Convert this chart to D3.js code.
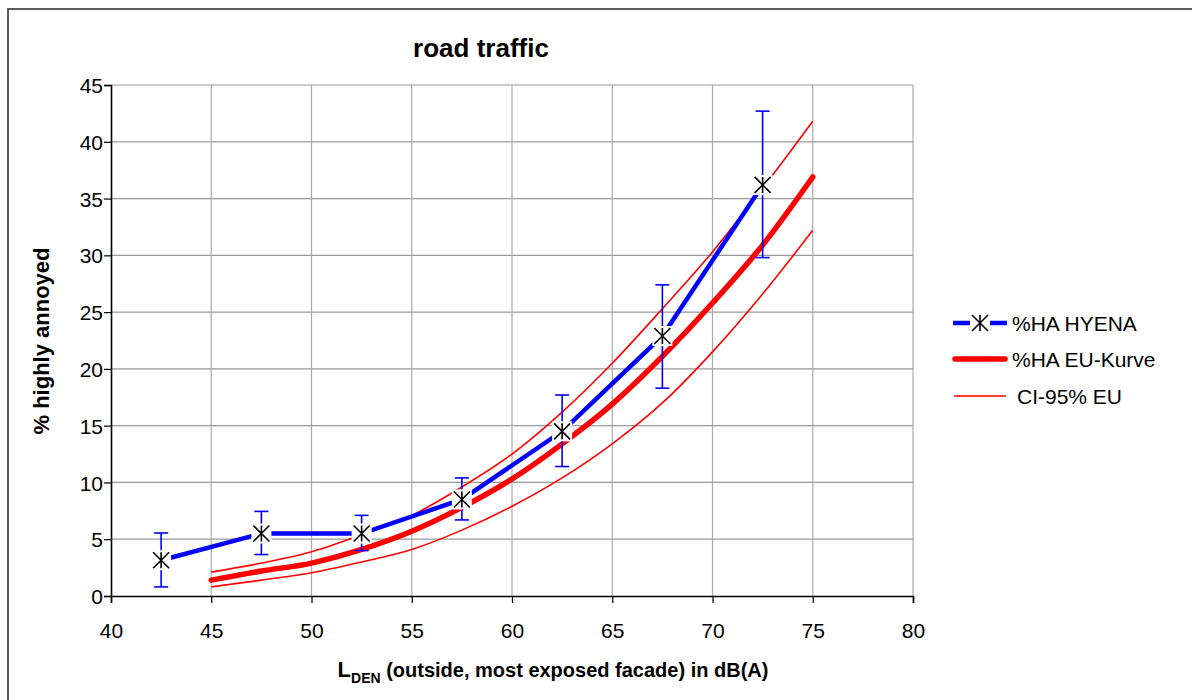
<!DOCTYPE html>
<html>
<head>
<meta charset="utf-8">
<script src="https://cdn.jsdelivr.net/npm/d3@7"></script>
<style>
  html, body { margin: 0; padding: 0; background: #fff; }
  svg { display: block; font-family: "Liberation Sans", Arial, sans-serif; }
</style>
</head>
<body>
<svg id="chart" width="1192" height="700"></svg>
<script>
// ---- data ----
const hyenaX = [42.5, 47.5, 52.5, 57.5, 62.5, 67.5, 72.5];
const hyenaY = [3.15, 5.5, 5.5, 8.5, 14.5, 22.9, 36.2];
const hyenaHi = [5.55, 7.45, 7.1, 10.4, 17.7, 27.4, 42.7];
const hyenaLo = [0.8, 3.65, 4.0, 6.7, 11.4, 18.3, 29.8];

const euX = [45, 47.5, 50, 52.5, 55, 57.5, 60, 62.5, 65, 67.5, 70, 72.5, 75];
const euY = [1.4, 2.2, 2.9, 4.1, 5.7, 7.8, 10.3, 13.4, 16.9, 21.1, 25.8, 30.9, 36.9];
const ciUpper = [2.1, 2.9, 3.9, 5.4, 7.1, 9.6, 12.5, 16.2, 20.5, 25.3, 30.3, 35.9, 41.8];
const ciLower = [0.8, 1.4, 2.05, 3.0, 4.1, 5.8, 7.9, 10.4, 13.4, 17.0, 21.5, 26.6, 32.2];

const xTicks = [40, 45, 50, 55, 60, 65, 70, 75, 80];
const yTicks = [0, 5, 10, 15, 20, 25, 30, 35, 40, 45];

const titleText = "road traffic";
const yLabel = "% highly annoyed";
const legendLabels = ["%HA HYENA", "%HA EU-Kurve", "CI-95% EU"];

// ---- layout ----
const svg = d3.select("#chart");
const x = d3.scaleLinear().domain([40, 80]).range([111, 913]);
const y = d3.scaleLinear().domain([0, 45]).range([596, 85]);

// outer chart border
svg.append("rect").attr("x", 8).attr("y", 9).attr("width", 1200).attr("height", 720)
  .attr("fill", "none").attr("stroke", "#333").attr("stroke-width", 1.6);

// gridlines
const grid = svg.append("g");
grid.selectAll("line.h").data(yTicks.filter(d => d > 0)).join("line")
  .attr("x1", x(40)).attr("x2", x(80)).attr("y1", d => y(d)).attr("y2", d => y(d))
  .attr("stroke", "#999").attr("stroke-width", 1.2);
grid.selectAll("line.v").data(xTicks.filter(d => d > 40)).join("line")
  .attr("x1", d => x(d)).attr("x2", d => x(d)).attr("y1", y(0)).attr("y2", y(45))
  .attr("stroke", "#aaa").attr("stroke-width", 1.2);

// axes
const yAxis = svg.append("g").attr("transform", `translate(${x(40)},0)`)
  .call(d3.axisLeft(y).tickValues(yTicks).tickSize(7).tickPadding(1));
const xAxis = svg.append("g").attr("transform", `translate(0,${y(0)})`)
  .call(d3.axisBottom(x).tickValues(xTicks).tickSize(7).tickPadding(20));
[yAxis, xAxis].forEach(a => {
  a.select(".domain").attr("stroke", "#000").attr("stroke-width", 1.6);
  a.selectAll(".tick line").attr("stroke", "#000").attr("stroke-width", 1.2);
  a.selectAll(".tick text").attr("fill", "#000").style("font-size", "21px")
    .style("font-family", "'Liberation Sans', Arial, sans-serif");
});
yAxis.selectAll(".tick text").attr("dy", "0.36em");

// curves
const line = d3.line().x(d => x(d[0])).y(d => y(d[1])).curve(d3.curveMonotoneX);
const plot = svg.append("g");
plot.append("path").datum(euX.map((v, i) => [v, ciUpper[i]])).attr("d", line)
  .attr("fill", "none").attr("stroke", "#ff0000").attr("stroke-width", 1.6);
plot.append("path").datum(euX.map((v, i) => [v, ciLower[i]])).attr("d", line)
  .attr("fill", "none").attr("stroke", "#ff0000").attr("stroke-width", 1.6);
plot.append("path").datum(euX.map((v, i) => [v, euY[i]])).attr("d", line)
  .attr("fill", "none").attr("stroke", "#ff0000").attr("stroke-width", 5.5)
  .attr("stroke-linecap", "round").attr("stroke-linejoin", "round");

// HYENA line
plot.append("path").datum(hyenaX.map((v, i) => [v, hyenaY[i]]))
  .attr("d", d3.line().x(d => x(d[0])).y(d => y(d[1])))
  .attr("fill", "none").attr("stroke", "#0000ff").attr("stroke-width", 4.5);

// error bars
const eb = plot.append("g").attr("stroke", "#0000ff").attr("stroke-width", 1.6);
hyenaX.forEach((v, i) => {
  const cx = x(v);
  eb.append("line").attr("x1", cx).attr("x2", cx).attr("y1", y(hyenaLo[i])).attr("y2", y(hyenaHi[i]));
  eb.append("line").attr("x1", cx - 7).attr("x2", cx + 7).attr("y1", y(hyenaLo[i])).attr("y2", y(hyenaLo[i]));
  eb.append("line").attr("x1", cx - 7).attr("x2", cx + 7).attr("y1", y(hyenaHi[i])).attr("y2", y(hyenaHi[i]));
});

// markers
function marker(g, cx, cy) {
  g.append("rect").attr("x", cx - 10).attr("y", cy - 10).attr("width", 20).attr("height", 20).attr("fill", "#fff");
  const s = 8;
  g.append("path").attr("d", `M${cx - s},${cy - s}L${cx + s},${cy + s}M${cx - s},${cy + s}L${cx + s},${cy - s}M${cx},${cy - s}L${cx},${cy + s}`)
    .attr("stroke", "#000").attr("stroke-width", 1.6).attr("fill", "none");
}
const mk = plot.append("g");
hyenaX.forEach((v, i) => marker(mk, x(v), y(hyenaY[i])));

// title
svg.append("text").attr("x", 481).attr("y", 57).attr("text-anchor", "middle")
  .style("font-size", "26px").style("font-weight", "bold").text(titleText);

// y label
svg.append("text").attr("transform", "translate(49,341) rotate(-90)").attr("text-anchor", "middle")
  .style("font-size", "22px").style("font-weight", "bold").text(yLabel);

// x label
const xl = svg.append("text").attr("x", 553).attr("y", 677).attr("text-anchor", "middle")
  .style("font-size", "20px").style("font-weight", "bold");
xl.append("tspan").style("font-size", "22px").text("L");
xl.append("tspan").attr("dy", 6).style("font-size", "14px").text("DEN");
xl.append("tspan").attr("dy", -6).text(" (outside, most exposed facade) in dB(A)");

// legend
const lg = svg.append("g");
const ly = [323, 359, 396];
// HYENA
lg.append("line").attr("x1", 953).attr("x2", 1007).attr("y1", ly[0]).attr("y2", ly[0])
  .attr("stroke", "#0000ff").attr("stroke-width", 4.5);
marker(lg, 980, ly[0]);
// EU
lg.append("line").attr("x1", 955).attr("x2", 1005).attr("y1", ly[1]).attr("y2", ly[1])
  .attr("stroke", "#ff0000").attr("stroke-width", 5.5).attr("stroke-linecap", "round");
// CI
lg.append("line").attr("x1", 954).attr("x2", 1006).attr("y1", ly[2]).attr("y2", ly[2])
  .attr("stroke", "#ff0000").attr("stroke-width", 1.6);
lg.selectAll("text").data(legendLabels).join("text")
  .attr("x", (d, i) => i === 2 ? 1017 : 1012).attr("y", (d, i) => ly[i]).attr("dy", "0.36em")
  .style("font-size", "21px").text(d => d);
</script>
</body>
</html>
